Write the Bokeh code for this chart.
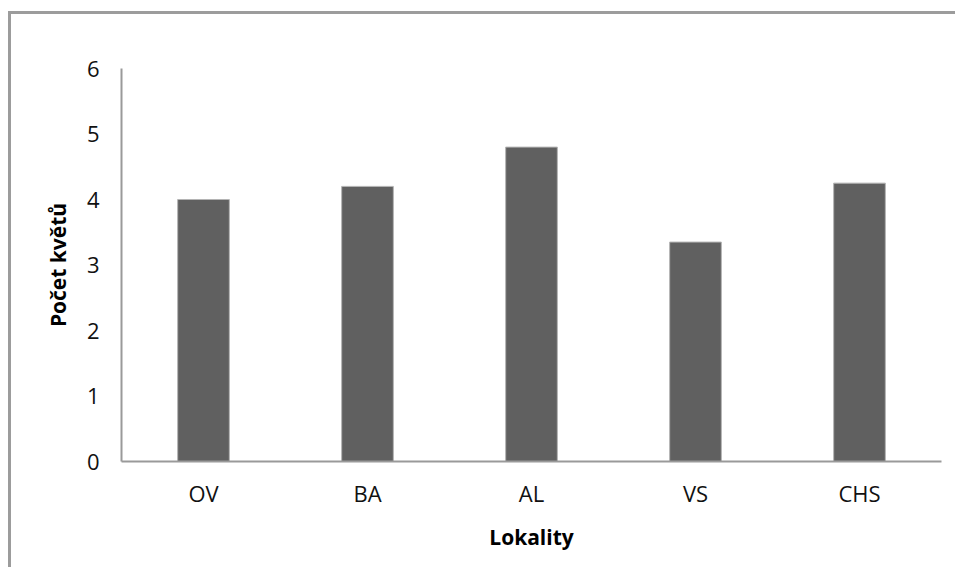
from bokeh.plotting import figure
from bokeh.models import FactorRange, Range1d, FixedTicker, ColumnDataSource
from bokeh.embed import file_html
from bokeh.resources import INLINE

# Average number of flowers per locality
lokality = ["OV", "BA", "AL", "VS", "CHS"]
pocet_kvetu = [4.0, 4.2, 4.8, 3.35, 4.25]
y_ticks = [0, 1, 2, 3, 4, 5, 6]

src = ColumnDataSource(data=dict(lokality=lokality, pocet=pocet_kvetu))

p = figure(
    x_range=FactorRange(factors=lokality, range_padding=0),
    y_range=Range1d(0, 6),
    width=947, height=556,
    output_backend="svg", toolbar_location=None,
    min_border_left=110, min_border_right=17,
    min_border_top=54, min_border_bottom=109,
    background_fill_color="white", border_fill_color="white",
)
p.margin = (11, 0, 0, 8)
p.styles = {
    "border-left": "3px solid #9c9c9c",
    "border-top": "3px solid #9c9c9c",
}

p.vbar(x="lokality", top="pocet", width=0.315, source=src,
       fill_color="#606060", line_color="#b4b4b4", line_width=1)

p.outline_line_color = None
p.xgrid.grid_line_color = None
p.ygrid.grid_line_color = None

font = "Open Sans"
for ax in (p.xaxis, p.yaxis):
    ax.axis_line_color = "#9a9a9a"
    ax.axis_line_width = 2
    ax.major_tick_line_color = None
    ax.minor_tick_line_color = None
    ax.major_tick_out = 0
    ax.major_tick_in = 0
    ax.major_label_text_font = font
    ax.major_label_text_font_size = "22px"
    ax.major_label_text_color = "#111111"
    ax.axis_label_text_font = font
    ax.axis_label_text_font_size = "21px"
    ax.axis_label_text_font_style = "bold"
    ax.axis_label_text_color = "#000000"

p.yaxis.ticker = FixedTicker(ticks=y_ticks)
p.yaxis.major_label_standoff = 22
p.yaxis.axis_label = "Počet květů"
p.yaxis.axis_label_standoff = 12

p.xaxis.major_label_standoff = 16
p.xaxis.axis_label = "Lokality"
p.xaxis.axis_label_standoff = 12

open("out.html", "w").write(file_html(p, INLINE))
